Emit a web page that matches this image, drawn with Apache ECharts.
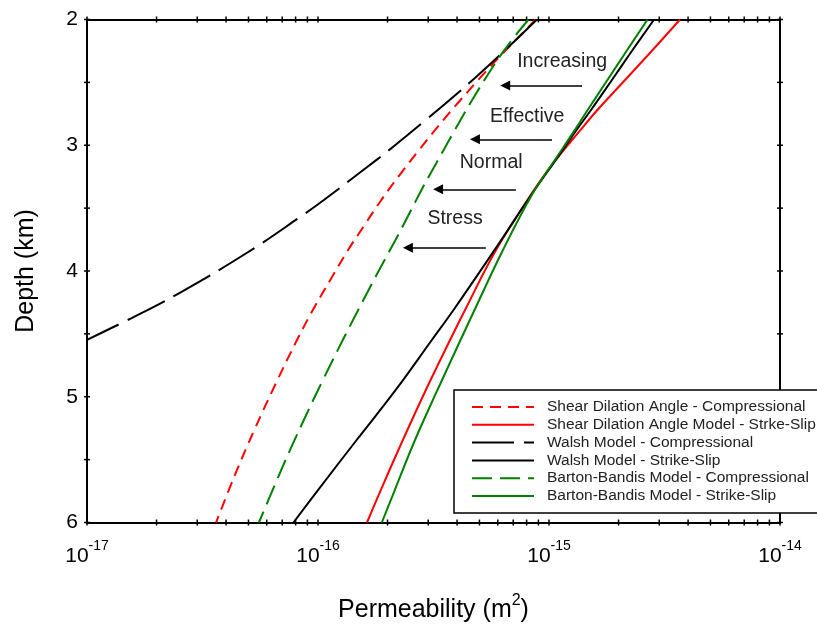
<!DOCTYPE html>
<html><head><meta charset="utf-8">
<script src="https://cdn.jsdelivr.net/npm/echarts@6/dist/echarts.min.js"></script>
<style>html,body{margin:0;padding:0;background:#fff}#c{width:817px;height:624px}</style>
</head><body><div id="c"></div>
<script>
// ---- Data (depth in km, permeability in m^2) ----
const seriesNames = [
  'Shear Dilation Angle - Compressional',
  'Shear Dilation Angle Model - Strke-Slip',
  'Walsh Model - Compressional',
  'Walsh Model - Strike-Slip',
  'Barton-Bandis Model - Compressional',
  'Barton-Bandis Model - Strike-Slip'
];
// Shear dilation angle - compressional
const sdcDepth = [2.0, 2.282, 2.425, 2.640, 2.855, 3.038, 3.221, 3.435, 3.650, 3.833, 4.048, 4.286, 4.549, 4.891, 5.264, 5.622, 6.0];
const sdcPerm  = [8.76e-16, 6.22e-16, 5.26e-16, 4.14e-16, 3.29e-16, 2.74e-16, 2.29e-16, 1.88e-16, 1.57e-16, 1.35e-16, 1.15e-16, 9.66e-17, 8.11e-17, 6.58e-17, 5.30e-17, 4.37e-17, 3.62e-17];
// Shear dilation angle - strike-slip
const sdsDepth = [2.0, 2.2425, 2.495, 2.7197, 2.892, 3.117, 3.380, 3.833, 4.310, 4.549, 4.946, 5.344, 5.742, 6.0];
const sdsPerm  = [3.69e-15, 2.81e-15, 2.10e-15, 1.62e-15, 1.35e-15, 1.07e-15, 8.44e-16, 5.90e-16, 4.33e-16, 3.73e-16, 2.93e-16, 2.33e-16, 1.87e-16, 1.63e-16];
// Walsh - compressional
const wcDepth = [2.0, 2.227, 2.425, 2.584, 2.799, 3.014, 3.221, 3.435, 3.571, 3.857, 4.175, 4.374, 4.547];
const wcPerm  = [8.87e-16, 6.60e-16, 5.05e-16, 4.03e-16, 2.93e-16, 2.11e-16, 1.51e-16, 1.06e-16, 8.36e-17, 4.91e-17, 2.51e-17, 1.56e-17, 1.0e-17];
// Walsh - strike-slip
const wsDepth = [2.0, 2.2425, 2.495, 2.7197, 2.892, 3.117, 3.380, 3.833, 4.310, 4.549, 4.946, 5.344, 5.742, 6.0];
const wsPerm  = [2.85e-15, 2.30e-15, 1.85e-15, 1.52e-15, 1.30e-15, 1.07e-15, 8.49e-16, 5.81e-16, 3.86e-16, 3.11e-16, 2.17e-16, 1.47e-16, 1.00e-16, 7.83e-17];
// Barton-Bandis - compressional
const bbcDepth = [2.0, 2.203, 2.378, 2.640, 2.879, 3.117, 3.332, 3.515, 3.730, 3.992, 4.175, 4.366, 4.549, 4.867, 5.145, 5.423, 5.702, 6.0];
const bbcPerm  = [8.15e-16, 6.65e-16, 5.71e-16, 4.65e-16, 3.91e-16, 3.31e-16, 2.85e-16, 2.53e-16, 2.20e-16, 1.84e-16, 1.63e-16, 1.44e-16, 1.28e-16, 1.05e-16, 8.89e-17, 7.57e-17, 6.50e-17, 5.55e-17];
// Barton-Bandis - strike-slip
const bbsDepth = [2.0, 2.2425, 2.495, 2.7197, 2.892, 3.117, 3.380, 3.833, 4.310, 4.549, 4.946, 5.344, 5.742, 6.0];
const bbsPerm  = [2.67e-15, 2.18e-15, 1.77e-15, 1.47e-15, 1.28e-15, 1.06e-15, 8.52e-16, 6.32e-16, 4.76e-16, 4.14e-16, 3.29e-16, 2.63e-16, 2.15e-16, 1.89e-16];

// Annotations
const annotTexts  = ['Increasing', 'Effective', 'Normal', 'Stress'];
const annotPerm   = [1.14e-15, 8.04e-16, 5.62e-16, 3.92e-16];
const annotDepth  = [2.338, 2.775, 3.141, 3.586];
const arrowFrom   = [1.39e-15, 1.03e-15, 7.19e-16, 5.33e-16];
const arrowTo     = [6.46e-16, 4.78e-16, 3.31e-16, 2.45e-16];
const arrowDepth  = [2.525, 2.953, 3.350, 3.815];

// Axis ticks
const xMajorTicks = [1e-17, 1e-16, 1e-15, 1e-14];
const xTickMultipliers = [1, 2, 3, 4, 5, 6, 7, 8, 9];
const yTicks = [2, 2.5, 3, 3.5, 4, 4.5, 5, 5.5, 6];
const xMin = 1e-17, xMax = 1e-14, yMin = 2, yMax = 6;

// ---- Build ----
const zip = (p, d) => p.map((v, i) => [v, d[i]]);
const xTicks = [];
for (let k = 0; k < xMajorTicks.length; k++) {
  for (const m of xTickMultipliers) {
    const v = xMajorTicks[k] * m;
    if (v <= xMax * 1.0001) xTicks.push(v);
  }
}
const FONT = "'Liberation Sans', Arial, sans-serif";
const RED = '#ff0000', BLACK = '#000000', GREEN = '#008000';

function lineSeries(name, perm, depth, color, dash) {
  return {
    name: name, type: 'line', data: zip(perm, depth),
    symbol: 'none', smooth: 0.4, clip: true,
    lineStyle: { color: color, width: 2, type: dash || 'solid' },
    itemStyle: { color: color },
    z: 3
  };
}

const chart = echarts.init(document.getElementById('c'), null, { renderer: 'canvas' });
const option = {
  animation: false,
  backgroundColor: '#fff',
  textStyle: { fontFamily: FONT },
  grid: { left: 87, right: 37, top: 19.5, bottom: 101.5, containLabel: false, outerBoundsMode: 'none' },
  xAxis: [
    {
      type: 'log', logBase: 10, min: xMin, max: xMax, position: 'bottom',
      axisLine: { show: true, lineStyle: { color: '#000', width: 2 } },
      axisTick: { show: false }, splitLine: { show: false },
      axisLabel: {
        margin: 17,
        formatter: function (v) {
          const e = Math.round(Math.log10(v));
          return '{b|10}{s|' + e + '}';
        },
        rich: {
          b: { fontSize: 21, fontFamily: FONT, color: '#000' },
          s: { fontSize: 14, fontFamily: FONT, color: '#000', padding: [0, 0, 20, 0] }
        }
      },
      name: '{a|Permeability (m}{s|2}{a|)}',
      nameLocation: 'middle', nameGap: 70,
      nameTextStyle: {
        rich: {
          a: { fontSize: 25, fontFamily: FONT, color: '#000' },
          s: { fontSize: 16, fontFamily: FONT, color: '#000', padding: [0, 0, 20, 0] }
        }
      }
    },
    {
      type: 'log', logBase: 10, min: xMin, max: xMax, position: 'top',
      axisLine: { show: true, lineStyle: { color: '#000', width: 2 } },
      axisTick: { show: false }, axisLabel: { show: false }, splitLine: { show: false }
    }
  ],
  yAxis: [
    {
      type: 'value', inverse: true, min: yMin, max: yMax, interval: 1, position: 'left',
      axisLine: { show: true, lineStyle: { color: '#000', width: 2 } },
      axisTick: { show: false }, splitLine: { show: false },
      axisLabel: { margin: 9, fontSize: 21, fontFamily: FONT, color: '#000' },
      name: 'Depth (km)', nameLocation: 'middle', nameGap: 48, nameRotate: 90,
      nameTextStyle: { fontSize: 25, fontFamily: FONT, color: '#000' }
    },
    {
      type: 'value', inverse: true, min: yMin, max: yMax, interval: 1, position: 'right',
      axisLine: { show: true, lineStyle: { color: '#000', width: 2 } },
      axisTick: { show: false }, axisLabel: { show: false }, splitLine: { show: false }
    }
  ],
  legend: {
    data: seriesNames,
    orient: 'vertical', left: 454, top: 390,
    padding: [9, 9, 9, 17],
    itemWidth: 62, itemHeight: 12, itemGap: 1.8,
    backgroundColor: '#fff', borderColor: '#000', borderWidth: 1.5, borderRadius: 0,
    itemStyle: { opacity: 0 },
    textStyle: { fontSize: 15.5, lineHeight: 14, fontFamily: FONT, color: '#222', padding: [0, 0, 0, 8] },
    selectedMode: false, z: 10
  },
  series: [
    lineSeries(seriesNames[0], sdcPerm, sdcDepth, RED, [11, 7]),
    lineSeries(seriesNames[1], sdsPerm, sdsDepth, RED),
    lineSeries(seriesNames[2], wcPerm, wcDepth, BLACK, [42, 10]),
    lineSeries(seriesNames[3], wsPerm, wsDepth, BLACK),
    lineSeries(seriesNames[4], bbcPerm, bbcDepth, GREEN, [20, 8]),
    lineSeries(seriesNames[5], bbsPerm, bbsDepth, GREEN),
    {
      name: 'xticks', type: 'scatter', silent: true, clip: false,
      data: xTicks.map(v => [v, yMin]).concat(xTicks.map(v => [v, yMax])),
      symbol: 'rect', symbolSize: [1.5, 6], itemStyle: { color: '#000', opacity: 1 }, z: 2
    },
    {
      name: 'yticks', type: 'scatter', silent: true, clip: false,
      data: yTicks.map(d => [xMin, d]).concat(yTicks.map(d => [xMax, d])),
      symbol: 'rect', symbolSize: [6, 1.5], itemStyle: { color: '#000', opacity: 1 }, z: 2
    },
    {
      name: 'annotations', type: 'scatter', silent: true,
      data: annotTexts.map((t, i) => ({ value: [annotPerm[i], annotDepth[i]], name: t })),
      symbol: 'circle', symbolSize: 1,
      itemStyle: { color: 'rgba(0,0,0,0)', opacity: 1 },
      label: {
        show: true, position: 'inside', formatter: '{b}',
        fontSize: 19.5, fontFamily: FONT, color: '#222'
      },
      markLine: {
        silent: true, animation: false,
        symbol: ['none', 'triangle'], symbolSize: 10,
        label: { show: false },
        lineStyle: { color: '#000', width: 1.5, type: 'solid', opacity: 1 },
        data: arrowDepth.map((d, i) => [
          { coord: [arrowFrom[i], d] },
          { coord: [arrowTo[i], d] }
        ])
      },
      z: 4
    }
  ]
};
chart.setOption(option);
</script>
</body></html>
